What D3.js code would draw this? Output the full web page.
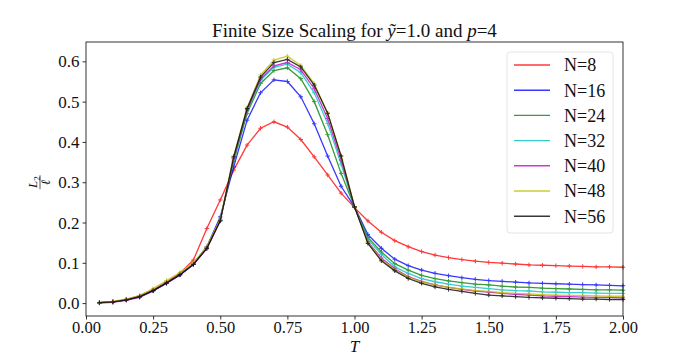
<!DOCTYPE html>
<html>
<head>
<meta charset="utf-8">
<script src="https://cdn.jsdelivr.net/npm/d3@7"></script>
<style>
  body { margin: 0; background: #fff; }
  text { font-family: "Liberation Serif", "DejaVu Serif", serif; fill: #111; }
</style>
</head>
<body>
<div id="root"></div>
<script>
// Temperatures (x values).
const temps = d3.range(1, 41).map(i => +(i * 0.05).toFixed(2));

// One value per temperature, T = 0.05 .. 2.00.
const n8 = [0.001, 0.003, 0.009, 0.018, 0.033, 0.052, 0.074, 0.107,
  0.185, 0.256, 0.330, 0.392, 0.434, 0.450, 0.437, 0.406, 0.363, 0.318, 0.273, 0.237,
  0.204, 0.176, 0.155, 0.140, 0.128, 0.119, 0.113, 0.108, 0.104, 0.101,
  0.099, 0.097, 0.095, 0.094, 0.093, 0.092, 0.091, 0.090, 0.090, 0.089];
const n16 = [0.001, 0.003, 0.008, 0.016, 0.031, 0.050, 0.071, 0.098,
  0.140, 0.214, 0.338, 0.454, 0.522, 0.554, 0.550, 0.512, 0.445, 0.365, 0.290, 0.239,
  0.170, 0.136, 0.109, 0.093, 0.082, 0.074, 0.068, 0.063, 0.059, 0.056,
  0.054, 0.052, 0.050, 0.049, 0.048, 0.047, 0.046, 0.045, 0.044, 0.043];
const n24 = [0.001, 0.003, 0.008, 0.016, 0.031, 0.050, 0.071, 0.097,
  0.138, 0.206, 0.352, 0.471, 0.545, 0.577, 0.584, 0.557, 0.500, 0.418, 0.322, 0.239,
  0.163, 0.127, 0.098, 0.082, 0.069, 0.061, 0.055, 0.051, 0.047, 0.045,
  0.042, 0.040, 0.039, 0.037, 0.036, 0.035, 0.034, 0.033, 0.033, 0.032];
const n32 = [0.001, 0.003, 0.008, 0.016, 0.031, 0.050, 0.071, 0.097,
  0.137, 0.205, 0.358, 0.477, 0.553, 0.585, 0.593, 0.572, 0.522, 0.446, 0.345, 0.239,
  0.158, 0.121, 0.090, 0.074, 0.061, 0.053, 0.047, 0.042, 0.039, 0.036,
  0.033, 0.031, 0.030, 0.028, 0.027, 0.026, 0.026, 0.025, 0.024, 0.024];
const n40 = [0.000, 0.002, 0.007, 0.014, 0.030, 0.049, 0.070, 0.096,
  0.135, 0.204, 0.360, 0.480, 0.556, 0.589, 0.597, 0.579, 0.532, 0.458, 0.355, 0.239,
  0.152, 0.112, 0.085, 0.066, 0.054, 0.045, 0.039, 0.034, 0.030, 0.027,
  0.024, 0.022, 0.020, 0.018, 0.017, 0.016, 0.015, 0.014, 0.014, 0.013];
const n48 = [0.001, 0.004, 0.010, 0.019, 0.036, 0.056, 0.076, 0.100,
  0.140, 0.208, 0.365, 0.485, 0.566, 0.603, 0.613, 0.590, 0.545, 0.472, 0.365, 0.240,
  0.150, 0.108, 0.083, 0.064, 0.053, 0.045, 0.039, 0.035, 0.031, 0.029,
  0.026, 0.024, 0.023, 0.021, 0.020, 0.019, 0.019, 0.018, 0.017, 0.017];
const n56 = [0.001, 0.003, 0.008, 0.016, 0.031, 0.050, 0.070, 0.096,
  0.136, 0.204, 0.363, 0.483, 0.561, 0.597, 0.605, 0.586, 0.541, 0.471, 0.365, 0.239,
  0.148, 0.105, 0.080, 0.061, 0.049, 0.040, 0.034, 0.029, 0.024, 0.020,
  0.018, 0.016, 0.014, 0.013, 0.012, 0.011, 0.010, 0.010, 0.009, 0.009];

const seriesNames = ['N=8', 'N=16', 'N=24', 'N=32', 'N=40', 'N=48', 'N=56'];
const seriesValues = [n8, n16, n24, n32, n40, n48, n56];
const seriesColors = ['#ff0000', '#0000ff', '#008000', '#00bfbf', '#bf00bf', '#bfbf00', '#000000'];

const xTicks = [0, 0.25, 0.5, 0.75, 1.0, 1.25, 1.5, 1.75, 2.0];
const yTicks = [0, 0.1, 0.2, 0.3, 0.4, 0.5, 0.6];

// Size of the page and the axes box.
const margin = { top: 42, right: 69, bottom: 39, left: 86 };
const fullW = 692, fullH = 355;
const width = fullW - margin.left - margin.right;
const height = fullH - margin.top - margin.bottom;

const x = d3.scaleLinear().domain([0, 2]).range([0, width]);
const y = d3.scaleLinear().domain([-0.032, 0.648]).range([height, 0]);

const svg = d3.select('#root')
  .append('svg')
  .attr('width', fullW)
  .attr('height', fullH);

const g = svg.append('g')
  .attr('transform', `translate(${margin.left}, ${margin.top})`);

// Lines and '+' markers.
const line = d3.line()
  .x((d, i) => x(temps[i]))
  .y(d => y(d));

seriesValues.forEach(function (vals, k) {
  const sg = g.append('g').attr('opacity', 0.78);
  sg.append('path')
    .datum(vals)
    .attr('fill', 'none')
    .attr('stroke', seriesColors[k])
    .attr('stroke-width', 1.3)
    .attr('d', line);
  sg.selectAll('path.mk')
    .data(vals)
    .enter()
    .append('path')
    .attr('class', 'mk')
    .attr('stroke', seriesColors[k])
    .attr('stroke-width', 1)
    .attr('d', function (d, i) {
      const cx = x(temps[i]), cy = y(d), s = 2.2;
      return `M${cx - s},${cy}H${cx + s}M${cx},${cy - s}V${cy + s}`;
    });
});

// Axes.
const xAxis = d3.axisBottom(x).tickValues(xTicks).tickFormat(d3.format('.2f')).tickSize(3.5).tickPadding(3);
const yAxis = d3.axisLeft(y).tickValues(yTicks).tickFormat(d3.format('.1f')).tickSize(3.5).tickPadding(3);

const gx = g.append('g')
  .attr('transform', `translate(0, ${height})`)
  .call(xAxis);
const gy = g.append('g').call(yAxis);

[gx, gy].forEach(function (ax) {
  ax.select('.domain').remove();
  ax.selectAll('line').attr('stroke', '#000').attr('stroke-width', 0.8);
  ax.selectAll('text')
    .style('font-family', '"Liberation Serif", serif')
    .style('font-size', '17px')
    .attr('fill', '#111');
});
gx.selectAll('text').attr('dy', '0.66em').style('font-size', '16.5px');
gy.selectAll('text').attr('dy', '0.33em');

// Frame.
g.append('rect')
  .attr('width', width)
  .attr('height', height)
  .attr('fill', 'none')
  .attr('stroke', '#000')
  .attr('stroke-width', 0.8);

// Title.
const title = svg.append('text')
  .attr('x', margin.left + width / 2)
  .attr('y', 37)
  .attr('text-anchor', 'middle')
  .style('font-size', '19px');
title.append('tspan').text('Finite Size Scaling for ');
title.append('tspan').style('font-style', 'italic').text('ỹ');
title.append('tspan').text('=1.0 and ');
title.append('tspan').style('font-style', 'italic').text('p');
title.append('tspan').text('=4');

// x label.
svg.append('text')
  .attr('x', margin.left + width / 2)
  .attr('y', 352)
  .attr('text-anchor', 'middle')
  .style('font-size', '17px')
  .style('font-style', 'italic')
  .text('T');

// y label: fraction L2 / l, rotated.
const yl = svg.append('g')
  .attr('transform', `translate(40, ${margin.top + y(0.3)}) rotate(-90)`);
const num = yl.append('text')
  .attr('x', 0)
  .attr('y', -3)
  .attr('text-anchor', 'middle')
  .style('font-size', '13px')
  .style('font-style', 'italic');
num.append('tspan').text('L');
num.append('tspan').attr('dy', 3).style('font-size', '9px').style('font-style', 'normal').text('2');
yl.append('line')
  .attr('x1', -7).attr('x2', 7)
  .attr('y1', 0).attr('y2', 0)
  .attr('stroke', '#111')
  .attr('stroke-width', 0.7);
yl.append('text')
  .attr('x', 0)
  .attr('y', 10)
  .attr('text-anchor', 'middle')
  .style('font-size', '13px')
  .style('font-style', 'italic')
  .text('ℓ');

// Legend.
const legend = svg.append('g').attr('id', 'legend');
legend.append('rect')
  .attr('x', 507).attr('y', 52)
  .attr('width', 106).attr('height', 181)
  .attr('rx', 3)
  .attr('fill', '#fff')
  .attr('fill-opacity', 0.8)
  .attr('stroke', '#ddd')
  .attr('stroke-width', 0.8);

const items = legend.selectAll('.legend-item')
  .data(seriesNames)
  .enter()
  .append('g')
  .attr('class', 'legend-item')
  .attr('transform', (d, i) => `translate(0, ${65 + i * 25.2})`);

items.append('line')
  .attr('x1', 514).attr('x2', 550)
  .attr('y1', 0).attr('y2', 0)
  .attr('stroke', (d, i) => seriesColors[i])
  .attr('stroke-opacity', 0.78)
  .attr('stroke-width', 1.4);

items.append('text')
  .attr('x', 564)
  .attr('y', 0)
  .attr('dy', '0.35em')
  .style('font-size', '18px')
  .text(d => d);
</script>
</body>
</html>
